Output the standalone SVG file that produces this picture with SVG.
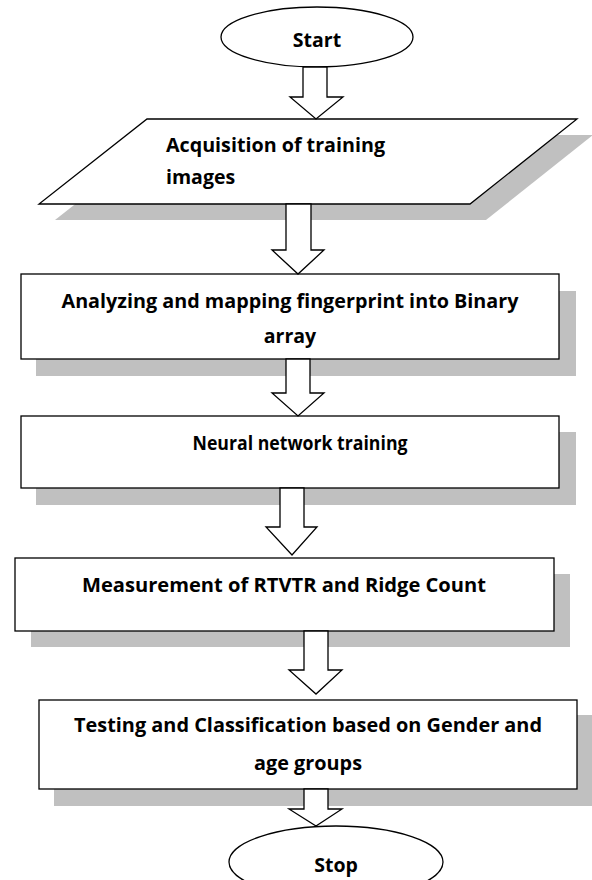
<svg xmlns="http://www.w3.org/2000/svg" width="592" height="880" viewBox="0 0 592 880">
<style>
.shape{fill:#fff;stroke:#000;stroke-width:1.3}
.shadow{fill:#c0c0c0;stroke:none}
.arrow{fill:#fff;stroke:#000;stroke-width:1.3;stroke-linejoin:miter}
text{font-family:"Open Sans","Noto Sans","DejaVu Sans",sans-serif;font-weight:bold;font-size:19.5px;fill:#000}
.c{text-anchor:middle}
</style>
<rect width="592" height="880" fill="#fff"/>
<g id="start">
<ellipse class="shape" cx="317" cy="37" rx="96" ry="30"/>
<text class="c" x="317" y="47">Start</text>
</g>
<g id="acquisition">
<polygon class="shadow" points="163,135 593,135 486,220 55,220"/>
<polygon class="shape" points="147,119 577,119 470,204 39,204"/>
<text x="166" y="152" textLength="219" lengthAdjust="spacingAndGlyphs">Acquisition of training</text>
<text x="166" y="184">images</text>
</g>
<g id="analyzing">
<rect class="shadow" x="36" y="291" width="540" height="85"/>
<rect class="shape" x="21" y="274" width="538" height="85"/>
<text class="c" x="290" y="308" textLength="457" lengthAdjust="spacingAndGlyphs">Analyzing and mapping fingerprint into Binary</text>
<text class="c" x="290" y="343">array</text>
</g>
<g id="neural">
<rect class="shadow" x="36" y="432" width="540" height="73"/>
<rect class="shape" x="21" y="416" width="538" height="72"/>
<text class="c" x="300" y="450" textLength="215" lengthAdjust="spacingAndGlyphs">Neural network training</text>
</g>
<g id="measurement">
<rect class="shadow" x="31" y="574" width="539" height="73"/>
<rect class="shape" x="15" y="558" width="539" height="73"/>
<text class="c" x="284" y="592" textLength="404" lengthAdjust="spacingAndGlyphs">Measurement of RTVTR and Ridge Count</text>
</g>
<g id="testing">
<rect class="shadow" x="54" y="715" width="540" height="91"/>
<rect class="shape" x="39" y="700" width="538" height="89"/>
<text class="c" x="308" y="732" textLength="468" lengthAdjust="spacingAndGlyphs">Testing and Classification based on Gender and</text>
<text class="c" x="308" y="770" textLength="108" lengthAdjust="spacingAndGlyphs">age groups</text>
</g>
<g id="stop">
<ellipse class="shape" cx="336" cy="862" rx="107" ry="36"/>
<text class="c" x="336" y="872">Stop</text>
</g>
<g id="connectors">
<polygon class="arrow" points="303,67 327,67 327,97 343,97 316,119 290,97 303,97"/>
<polygon class="arrow" points="286,204 311,204 311,250 324,250 298,274 272,250 286,250"/>
<polygon class="arrow" points="286,359 310,359 310,393 324,393 298,416 272,393 286,393"/>
<polygon class="arrow" points="280,488 304,488 304,527 317,527 292,555 266,527 280,527"/>
<polygon class="arrow" points="304,631 328,631 328,670 342,670 316,694 289,670 304,670"/>
<polygon class="arrow" points="304,789 328,789 328,809 342,809 316,826 289,809 304,809"/>
</g>
</svg>
